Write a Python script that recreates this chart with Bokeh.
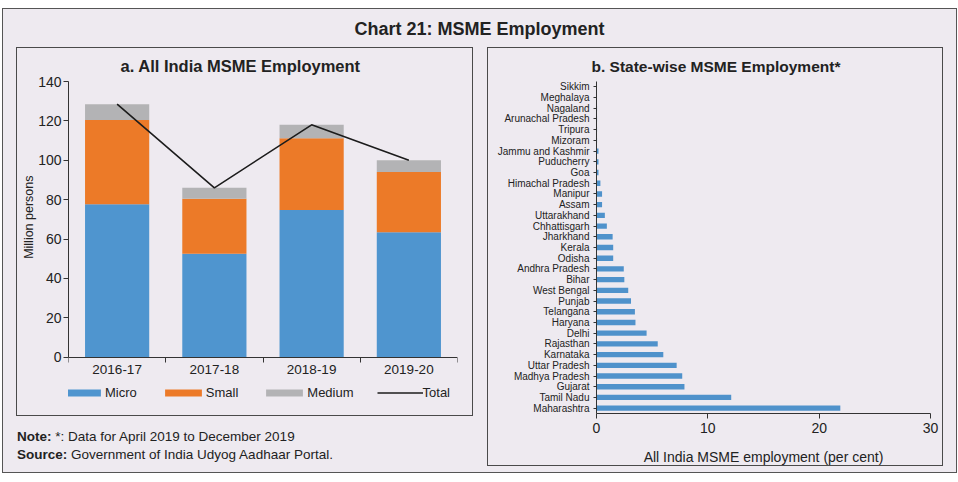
from bokeh.plotting import figure
from bokeh.models import (ColumnDataSource, Range1d, FactorRange, FixedTicker,
                          Legend, LegendItem, Div, Title)
from bokeh.layouts import column, row
from bokeh.embed import file_html
from bokeh.resources import INLINE

# ---------------- data ----------------
years = ["2016-17", "2017-18", "2018-19", "2019-20"]
micro = [77.6, 52.5, 74.8, 63.4]
small = [42.9, 28.0, 36.4, 30.6]
medium = [8.0, 5.5, 6.8, 6.0]
total = [128.5, 86.0, 118.0, 100.0]
y_ticks = [0, 20, 40, 60, 80, 100, 120, 140]

states = ["Sikkim", "Meghalaya", "Nagaland", "Arunachal Pradesh", "Tripura",
          "Mizoram", "Jammu and Kashmir", "Puducherry", "Goa",
          "Himachal Pradesh", "Manipur", "Assam", "Uttarakhand",
          "Chhattisgarh", "Jharkhand", "Kerala", "Odisha", "Andhra Pradesh",
          "Bihar", "West Bengal", "Punjab", "Telangana", "Haryana", "Delhi",
          "Rajasthan", "Karnataka", "Uttar Pradesh", "Madhya Pradesh",
          "Gujarat", "Tamil Nadu", "Maharashtra"]
share = [0.02, 0.04, 0.05, 0.05, 0.05, 0.05, 0.18, 0.18, 0.18, 0.35, 0.5,
         0.5, 0.75, 0.93, 1.45, 1.5, 1.5, 2.45, 2.5, 2.85, 3.1, 3.45, 3.5,
         4.5, 5.5, 6.0, 7.2, 7.7, 7.9, 12.1, 21.9]
x_ticks = [0, 10, 20, 30]

# ---------------- style ----------------
BG = "#EEEAF0"
FONT = "Liberation Sans, Arial, sans-serif"
TXT = "#222222"
BLUE = "#4F95CF"
ORANGE = "#EC7A28"
GRAY = "#B3B3B5"
BLUE2 = "#4F92CB"
AX = "#333333"
Y_LOW = -28.1   # room under the axis for tick labels and legend


def base_axes(p):
    for ax in (p.xaxis[0], p.yaxis[0]):
        ax.axis_line_color = AX
        ax.major_tick_line_color = AX
        ax.minor_tick_line_color = None
        ax.major_label_text_color = TXT
        ax.major_label_text_font = FONT
        ax.axis_label_text_font = FONT
        ax.axis_label_text_color = TXT
        ax.axis_label_text_font_style = "normal"
        ax.major_tick_in = 0
    p.xgrid.visible = False
    p.ygrid.visible = False


# ---------------- panel a ----------------
xs = [i + 0.5 for i in range(len(years))]
src = ColumnDataSource(dict(x=xs, Micro=micro, Small=small, Medium=medium,
                            total=total))

p1 = figure(width=457, height=369, x_range=Range1d(0, len(years)),
            y_range=Range1d(Y_LOW, y_ticks[-1]), output_backend="svg",
            toolbar_location=None, min_border_left=51, min_border_right=17,
            min_border_top=33, min_border_bottom=5,
            background_fill_color=BG, border_fill_color=BG,
            outline_line_color=None,
            styles={"border": "1px solid #4a4a4a"})
base_axes(p1)
rs = p1.vbar_stack(["Micro", "Small", "Medium"], x="x", width=0.66,
                   source=src, fill_color=[BLUE, ORANGE, GRAY],
                   line_color=None)
ln = p1.line("x", "total", source=src, line_color="#1c1c1c", line_width=1.6)

p1.title.text = "a. All India MSME Employment"
p1.title.align = "left"
p1.title.offset = 52
p1.title.text_font = FONT
p1.title.text_font_size = "16.5px"
p1.title.text_font_style = "bold"
p1.title.text_color = TXT
p1.title.standoff = 10
p1.title.vertical_align = "top"

p1.yaxis.ticker = FixedTicker(ticks=y_ticks)
p1.yaxis.bounds = (y_ticks[0], y_ticks[-1])
p1.yaxis.major_label_text_font_size = "14px"
p1.yaxis.major_tick_out = 5
p1.yaxis.major_label_standoff = 2

ylab = Title(text="Million persons", align="right", offset=94, standoff=0,
             text_font=FONT, text_font_size="12.5px", text_font_style="normal",
             text_color=TXT)
p1.add_layout(ylab, "left")

p1.xaxis.fixed_location = 0
p1.xaxis.ticker = FixedTicker(ticks=xs, minor_ticks=list(range(len(years) + 1)))
p1.xaxis.major_label_overrides = {x: y for x, y in zip(xs, years)}
p1.xaxis.major_tick_line_color = None
p1.xaxis.major_tick_out = 0
p1.xaxis.minor_tick_line_color = AX
p1.xaxis.minor_tick_out = 5
p1.xaxis.minor_tick_in = 0
p1.xaxis.major_label_standoff = 3
p1.xaxis.major_label_text_font_size = "13.5px"

legend = Legend(items=[LegendItem(label="Micro", renderers=[rs[0]]),
                       LegendItem(label="Small", renderers=[rs[1]]),
                       LegendItem(label="Medium", renderers=[rs[2]]),
                       LegendItem(label="Total", renderers=[ln])],
                orientation="horizontal", location=(-9, 12),
                glyph_width=46, glyph_height=9, label_standoff=0, spacing=23,
                padding=0, margin=0, border_line_color=None,
                background_fill_alpha=0, label_text_font_size="13px",
                label_text_font=FONT, label_text_color=TXT)
p1.add_layout(legend)

notes = Div(text="<div style='padding-top:12px;padding-left:1px;line-height:18px'>"
                 "<b>Note:</b> *: Data for April 2019 to December 2019<br>"
                 "<b>Source:</b> Government of India Udyog Aadhaar Portal.</div>",
            width=457, height=50, margin=0,
            styles={"font-family": FONT, "font-size": "13.5px", "color": TXT})

# ---------------- panel b ----------------
p2 = figure(width=456, height=419, y_range=FactorRange(*states[::-1]),
            x_range=Range1d(0, 30), output_backend="svg",
            toolbar_location=None, min_border_left=108, min_border_right=14,
            min_border_top=33, min_border_bottom=53,
            background_fill_color=BG, border_fill_color=BG,
            outline_line_color=None,
            styles={"border": "1px solid #4a4a4a"})
base_axes(p2)
p2.hbar(y=states, right=share, left=0, height=0.5, fill_color=BLUE2,
        line_color=None)

p2.title.text = "b. State-wise MSME Employment*"
p2.title.align = "left"
p2.title.offset = -5
p2.title.text_font = FONT
p2.title.text_font_size = "15.5px"
p2.title.text_font_style = "bold"
p2.title.text_color = TXT
p2.title.standoff = 14

p2.yaxis.major_label_text_font_size = "10px"
p2.yaxis.major_tick_out = 3
p2.yaxis.major_label_standoff = 4

p2.xaxis.ticker = FixedTicker(ticks=x_ticks)
p2.xaxis.major_label_text_font_size = "14px"
p2.xaxis.major_tick_out = 5
p2.xaxis.major_label_standoff = 4
p2.xaxis.axis_label = "All India MSME employment (per cent)"
p2.xaxis.axis_label_text_font_size = "14px"
p2.xaxis.axis_label_standoff = 13

# ---------------- layout ----------------
title = Div(text="Chart 21: MSME Employment", width=953, height=38, margin=0,
            styles={"font-family": FONT, "font-size": "18px",
                    "font-weight": "bold", "color": TXT,
                    "text-align": "center", "line-height": "40px"})

body = row(column(p1, notes, spacing=0), p2, spacing=14, margin=(0, 0, 6, 13))
page = column(title, body, spacing=0, margin=(8, 0, 0, 2),
              styles={"border": "1px solid #555555", "background-color": BG})

open("out.html", "w").write(file_html(page, INLINE))
